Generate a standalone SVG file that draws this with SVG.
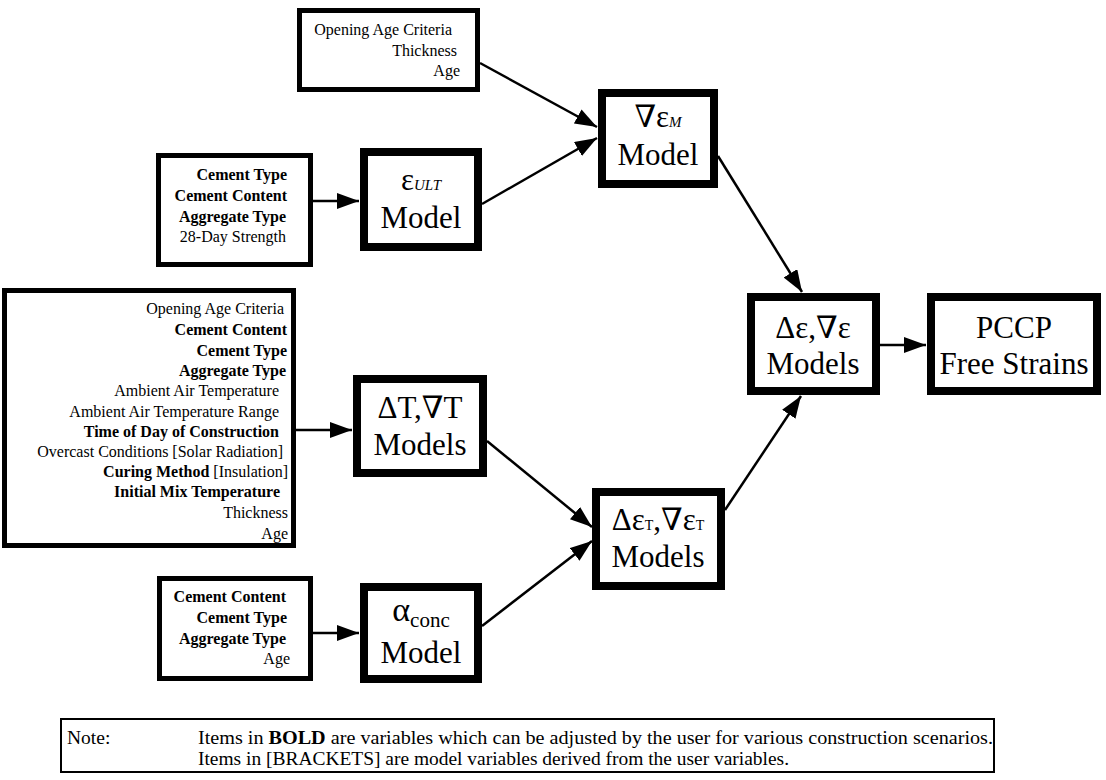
<svg xmlns="http://www.w3.org/2000/svg" width="1106" height="780" viewBox="0 0 1106 780" font-family="Liberation Serif, Times New Roman, DejaVu Serif, serif">
<defs>
<marker id="ah" markerUnits="userSpaceOnUse" markerWidth="25" markerHeight="17" refX="22" refY="8" orient="auto">
<path d="M0,0 L22,8 L0,16 z" fill="#000"/>
</marker>
</defs>
<style>
text{font-family:'Liberation Serif','Times New Roman','DejaVu Serif',serif;fill:#000}
.in{fill:#fff;stroke:#000;stroke-width:5}
.md{fill:#fff;stroke:#000;stroke-width:8}
.it{font-size:16px;text-anchor:end}
.b{font-weight:bold}
.big{font-size:31px;text-anchor:middle}
.sm{font-size:15px;font-style:italic}
.con{fill:none;stroke:#000;stroke-width:2.5;marker-end:url(#ah)}
.note{font-size:19.5px}
</style>
<rect width="1106" height="780" fill="#fff"/>

<g id="connectors">
<line class="con" x1="480" y1="63" x2="597" y2="127"/>
<line class="con" x1="482" y1="204" x2="597" y2="138"/>
<line class="con" x1="313" y1="201" x2="359" y2="201"/>
<line class="con" x1="718" y1="156" x2="802" y2="292"/>
<line class="con" x1="296" y1="430" x2="352" y2="430"/>
<line class="con" x1="487" y1="441" x2="592" y2="527"/>
<line class="con" x1="313" y1="633" x2="359" y2="633"/>
<line class="con" x1="482" y1="626" x2="592" y2="541"/>
<line class="con" x1="725" y1="510" x2="801" y2="396"/>
<line class="con" x1="880" y1="345" x2="926" y2="345"/>
</g>

<g id="input-opening">
<rect class="in" x="299.5" y="10.5" width="178" height="79"/>
<text class="it" x="452" y="35">Opening Age Criteria</text>
<text class="it" x="457" y="56">Thickness</text>
<text class="it" x="460" y="76">Age</text>
</g>

<g id="input-cement">
<rect class="in" x="158.5" y="155.5" width="152" height="109"/>
<text class="it b" x="287" y="180">Cement Type</text>
<text class="it b" x="287" y="201">Cement Content</text>
<text class="it b" x="286" y="222">Aggregate Type</text>
<text class="it" x="286" y="242">28-Day Strength</text>
</g>

<g id="input-thermal">
<rect class="in" x="4.5" y="290.5" width="289" height="255"/>
<text class="it" x="284" y="314">Opening Age Criteria</text>
<text class="it b" x="287" y="335">Cement Content</text>
<text class="it b" x="287" y="356">Cement Type</text>
<text class="it b" x="286" y="376">Aggregate Type</text>
<text class="it" x="279" y="396">Ambient Air Temperature</text>
<text class="it" x="279" y="417">Ambient Air Temperature Range</text>
<text class="it b" x="279" y="437">Time of Day of Construction</text>
<text class="it" x="283" y="457">Overcast Conditions [Solar Radiation]</text>
<text class="it" x="288" y="477"><tspan class="b">Curing Method</tspan>   [Insulation]</text>
<text class="it b" x="280" y="497">Initial Mix Temperature</text>
<text class="it" x="288" y="518">Thickness</text>
<text class="it" x="288" y="539">Age</text>
</g>

<g id="input-alpha">
<rect class="in" x="159.5" y="578.5" width="151" height="100"/>
<text class="it b" x="286" y="602">Cement Content</text>
<text class="it b" x="287" y="623">Cement Type</text>
<text class="it b" x="286" y="644">Aggregate Type</text>
<text class="it" x="290" y="664">Age</text>
</g>

<g id="eps-ult-model">
<rect class="md" x="364" y="152" width="114" height="95"/>
<text class="big" x="421" y="190">ε<tspan class="sm">ULT</tspan></text>
<text class="big" x="421" y="228">Model</text>
</g>

<g id="grad-eps-m-model">
<rect class="md" x="602" y="93" width="112" height="91"/>
<text class="big" x="658" y="127">∇ε<tspan class="sm">M</tspan></text>
<text class="big" x="658" y="165">Model</text>
</g>

<g id="dT-model">
<rect class="md" x="357" y="379" width="126" height="94"/>
<text class="big" x="420" y="418">ΔT,∇T</text>
<text class="big" x="420" y="455">Models</text>
</g>

<g id="alpha-model">
<rect class="md" x="364" y="587" width="114" height="92"/>
<text class="big" x="421" y="621"><tspan font-size="34">α</tspan><tspan font-size="21" dy="6">conc</tspan></text>
<text class="big" x="421" y="663">Model</text>
</g>

<g id="deps-T-model">
<rect class="md" x="596" y="492" width="125" height="94"/>
<text class="big" x="658" y="530">Δε<tspan font-size="14">T</tspan>,∇ε<tspan font-size="14">T</tspan></text>
<text class="big" x="658" y="567">Models</text>
</g>

<g id="deps-model">
<rect class="md" x="751" y="297" width="125" height="94"/>
<text class="big" x="813" y="338">Δε,∇ε</text>
<text class="big" x="813" y="374">Models</text>
</g>

<g id="pccp">
<rect class="md" x="931" y="297" width="166" height="94"/>
<text class="big" x="1014" y="338">PCCP</text>
<text class="big" x="1014" y="374">Free Strains</text>
</g>

<g id="note">
<rect x="61" y="719" width="933" height="53" fill="#fff" stroke="#000" stroke-width="2"/>
<text class="note" x="67" y="744">Note:</text>
<text class="note" x="198" y="744" textLength="795" lengthAdjust="spacingAndGlyphs">Items in <tspan class="b">BOLD</tspan> are variables which can be adjusted by the user for various construction scenarios.</text>
<text class="note" x="198" y="765" textLength="591" lengthAdjust="spacingAndGlyphs">Items in [BRACKETS] are model variables derived from the user variables.</text>
</g>
</svg>
